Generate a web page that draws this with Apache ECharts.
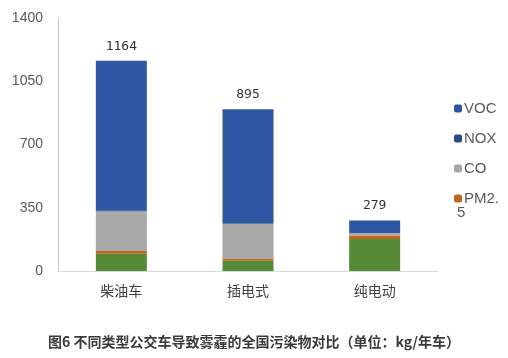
<!DOCTYPE html>
<html><head><meta charset="utf-8">
<script src="https://cdn.jsdelivr.net/npm/echarts@6/dist/echarts.min.js"></script>
<style>html,body{margin:0;padding:0;background:#fff}#c{width:508px;height:358px}</style>
</head><body><div id="c"></div>
<script>
var categories = ['柴油车', '插电式', '纯电动'];
var totals = [1164, 895, 279];
var other = [95, 58, 177];   // green bottom layer (not in legend)
var pm25 = [15, 11, 20];
var co = [220, 191, 13];
var nox = [6, 3, 0];
var voc = [828, 632, 69];
var yTicks = [0, 350, 700, 1050, 1400];

var chart = echarts.init(document.getElementById('c'));
var font = 'Liberation Sans';
function s(name, data, color, extra) {
  var o = { name: name, type: 'bar', stack: 't', data: data, barWidth: 51,
    itemStyle: { color: color }, emphasis: { disabled: true } };
  return Object.assign(o, extra || {});
}
chart.setOption({
  animation: false,
  title: { text: '图6 不同类型公交车导致雾霾的全国污染物对比（单位：kg/年车）', left: 'center', top: 330,
    textStyle: { fontSize: 14, fontWeight: 'bold', color: '#3a3a3a', fontFamily: 'Noto Sans CJK SC' } },
  grid: { left: 58, right: 70, top: 18, bottom: 87 },
  legend: { orient: 'vertical', left: 449, top: 95, itemWidth: 8, itemHeight: 8, itemGap: 13,
    data: ['VOC', 'NOX', 'CO', 'PM2.5'],
    formatter: function (n) { return n === 'PM2.5' ? 'PM2.' : n; },
    textStyle: { fontSize: 15, color: '#595959', fontFamily: font, padding: [0, 0, 0, -3], lineHeight: 17 } },
  graphic: [{ type: 'text', left: 457, top: 205, silent: true,
    style: { text: '5', fontSize: 15, fill: '#595959', fontFamily: font } }],
  xAxis: { type: 'category', data: categories,
    axisLine: { lineStyle: { color: '#d9d9d9' } }, axisTick: { show: false },
    axisLabel: { fontSize: 14, color: '#404040', margin: 13, fontFamily: 'Noto Sans CJK SC' } },
  yAxis: { type: 'value', min: yTicks[0], max: yTicks[yTicks.length - 1], interval: 350,
    axisLine: { show: true, lineStyle: { color: '#b7c9cc' } }, axisTick: { show: false },
    splitLine: { show: false },
    axisLabel: { fontSize: 14, color: '#595959', margin: 15, fontFamily: font,
      formatter: function (v) { return String(v); } } },
  series: [
    s('other', other, '#568a36'),
    s('PM2.5', pm25, '#c0651e'),
    s('CO', co, '#a8a8a8'),
    s('NOX', nox, '#2a4a82'),
    s('VOC', voc, '#2f56a2', { label: { show: true, position: 'top', distance: 8,
      formatter: function (p) { return totals[p.dataIndex]; },
      fontSize: 13, color: '#333', fontFamily: 'DejaVu Sans Mono' } })
  ]
});
</script></body></html>
